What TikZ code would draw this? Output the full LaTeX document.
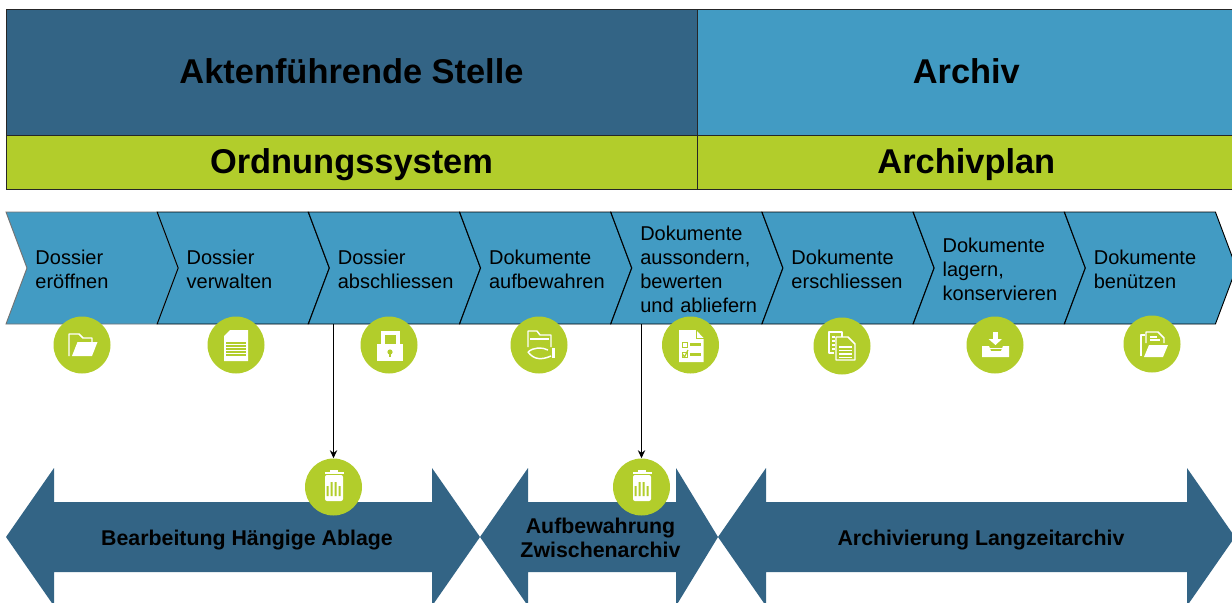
\documentclass[tikz,border=0pt]{standalone}
\usepackage{fontspec}
\setmainfont{Liberation Sans}
\usetikzlibrary{positioning,shapes.symbols,arrows.meta}

\definecolor{darkblue}{RGB}{51,100,133}
\definecolor{lightblue}{RGB}{66,155,195}
\definecolor{limegreen}{RGB}{178,205,43}

\tikzset{
  headbox/.style={draw=black!85,line width=.7pt,anchor=north west,outer sep=0pt,minimum height=94.5pt,text depth=1.5pt,font=\bfseries\fontsize{25.8}{30}\selectfont},
  bandbox/.style={draw=black!85,line width=.7pt,anchor=north west,outer sep=0pt,fill=limegreen,minimum height=40.5pt,text height=23.3pt,text depth=5.4pt,inner ysep=0pt,font=\bfseries\fontsize{25.8}{30}\selectfont},
  stage/.style={signal,signal to=east,signal from=west,signal pointer angle=138.9,draw=black,line width=.7pt,fill=lightblue,
    minimum width=129pt,minimum height=84pt,inner sep=0pt,outer sep=0pt,text width=90pt,align=left,font=\fontsize{15}{18}\selectfont,
    execute at begin node={\leftskip=2.6pt\rule{0pt}{12.5pt}}},
  phasefill/.style={fill=darkblue},
  phase/.style={inner sep=0pt,align=center,font=\bfseries\fontsize{16}{18}\selectfont},
  disc/.style={circle,fill=limegreen,minimum size=42.75pt,inner sep=0pt},
  ink/.style={fill=white,draw=none},
  pen/.style={draw=white,line width=1.1pt,line join=round},
  cut/.style={draw=limegreen,line width=.9pt},
  flow/.style={-{Stealth[length=6pt,width=5.5pt]},line width=.95pt},
  iconfolder/.pic={
    \draw[pen] (-13,11) -- (-13,-11) -- (-3,-11) -- (1,-7) -- (10,-7) -- (10,-3);
    \fill[ink] (-10,11) -- (-4.5,-3) -- (15.5,-3) -- (10,11) -- cycle;
  },
  icondoc/.pic={
    \fill[ink] (-6,-15) -- (12,-15) -- (12,16) -- (-12,16) -- (-12,-9) -- cycle;
    \draw[cut] (-10,-2) -- (10,-2) (-10,1) -- (10,1) (-10,4) -- (10,4) (-10,7) -- (10,7) (-10,10) -- (10,10);
  },
  iconlock/.pic={
    \draw[white,line width=2.6pt] (-6,0) -- (-6,-12) -- (9,-12) -- (9,0);
    \fill[ink] (-12,-1) rectangle (14,16);
    \fill[limegreen] (1,7) circle[radius=2.6];
    \fill[limegreen] (0,7) rectangle (2,12);
  },
  iconhand/.pic={
    \draw[pen] (-11,2) -- (-11,-14) -- (-2,-14) -- (1,-10) -- (12,-10) -- (12,2);
    \draw[pen] (-9,-6) -- (10,-6);
    \draw[pen] (-11,7) .. controls (-5,2) and (3,2) .. (9,5);
    \draw[pen] (-11,7) .. controls (-5,15) and (3,15) .. (12,11);
    \fill[ink] (13,3) rectangle (16,13);
  },
  iconcheck/.pic={
    \fill[ink] (-11.5,-15) -- (5.5,-15) -- (13,-7) -- (13,17) -- (-11.5,17) -- cycle;
    \draw[limegreen,line width=.6pt] (5.5,-15) -- (5.5,-7) -- (13,-7);
    \draw[limegreen,line width=.7pt] (-8.5,-3) rectangle (-3.5,2);
    \draw[limegreen,line width=.7pt] (-8.5,7) rectangle (-3.5,12);
    \draw[limegreen,line width=.9pt] (-8,9) -- (-6,12) -- (-2.5,5);
    \fill[limegreen] (-0.5,-2.5) rectangle (10,0.5);
    \fill[limegreen] (-0.5,7.5) rectangle (10,10.5);
  },
  iconcopy/.pic={
    \draw[pen] (-8,7) -- (-13,7) -- (-13,-14) -- (0,-14) -- (0,-9);
    \draw[white,line width=.8pt] (-10,-9) -- (-7,-9) (-10,-5) -- (-7,-5) (-10,-1) -- (-7,-1) (-10,3) -- (-7,3);
    \draw[pen] (-6,14) -- (-6,-9) -- (6,-9) -- (13,-2) -- (13,14) -- cycle;
    \draw[white,line width=.9pt] (-3,1) -- (10,1) (-3,4.5) -- (10,4.5) (-3,8) -- (10,8) (-3,11.5) -- (10,11.5);
  },
  icontray/.pic={
    \fill[ink] (-2.5,-13) rectangle (3,-6);
    \fill[ink] (-6.5,-6) -- (7,-6) -- (0.5,0) -- cycle;
    \fill[ink] (-13,1) -- (-6,1) -- (-4,6) -- (6,6) -- (8,1) -- (14,1) -- (14,12) -- (-13,12) -- cycle;
    \draw[white,line width=.6pt] (-5,3) -- (7,3);
  },
  iconfile/.pic={
    \draw[pen] (-11,12) -- (-11,-9) -- (-7,-9);
    \draw[pen] (-6,-1) -- (-6,-12) -- (6,-12) -- (12,-6) -- (12,-1);
    \draw[white,line width=.8pt] (-2,-7) -- (5,-7) (-2,-4) -- (8,-4);
    \fill[ink] (-8,13) -- (-3,1) -- (16,1) -- (11,13) -- cycle;
  },
  icontrash/.pic={
    \fill[ink] (-4,-17) rectangle (4,-15);
    \fill[ink] (-9,-15) rectangle (10,-13);
    \fill[ink,rounded corners=1.5pt] (-8.5,-12) rectangle (9.5,14);
    \fill[limegreen] (-6.8,-1) rectangle (-5,9) (-2.8,-5) rectangle (-1,9) (1.2,-5) rectangle (3,9) (5.2,-1) rectangle (7,9);
  },
}

\begin{document}
\begin{tikzpicture}[x=.75pt,y=-.75pt,on grid]
  \clip (0,0) rectangle (1232,603);

  % top blocks
  \node[headbox,fill=darkblue,minimum width=518.25pt] (stelle) at (6,9) {Aktenführende Stelle};
  \node[headbox,fill=lightblue,minimum width=404pt] (archiv) at (stelle.north east) {Archiv};
  \node[bandbox,minimum width=518.25pt] (ordnung) at (stelle.south west) {Ordnungssystem};
  \node[bandbox,minimum width=404pt] (plan) at (ordnung.north east) {Archivplan};

  % process chain
  \node[stage,draw=black!55] (s1) at (92,268) {Dossier\\eröffnen};
  \node[stage,right=113.4pt of s1] (s2) {Dossier\\verwalten};
  \node[stage,right=113.4pt of s2] (s3) {Dossier\\abschliessen};
  \node[stage,right=113.4pt of s3] (s4) {Dokumente\\aufbewahren};
  \node[stage,right=113.4pt of s4] (s5) {Dokumente\\aussondern,\\bewerten\\und~abliefern};
  \node[stage,right=113.4pt of s5] (s6) {Dokumente\\erschliessen};
  \node[stage,right=113.4pt of s6] (s7) {Dokumente\\lagern,\\konservieren};
  \node[stage,right=113.4pt of s7] (s8) {Dokumente\\benützen};

  % icons under the chain
  \node[disc] (d1) at (82,345) {};
  \pic at (d1) {iconfolder};
  \node[disc] (d2) at (236,345) {};
  \pic at (d2) {icondoc};
  \node[disc] (d3) at (389,345) {};
  \pic at (d3) {iconlock};
  \node[disc] (d4) at (539,345) {};
  \pic at (d4) {iconhand};
  \node[disc] (d5) at (690.5,345) {};
  \pic at (d5) {iconcheck};
  \node[disc] (d6) at (842,346) {};
  \pic at (d6) {iconcopy};
  \node[disc] (d7) at (995,345) {};
  \pic at (d7) {icontray};
  \node[disc] (d8) at (1152,344) {};
  \pic at (d8) {iconfile};

  % storage phases
  \fill[phasefill] (6,537) -- (54,468) -- (54,502) -- (432,502) -- (432,468) -- (480,537) -- (432,606) -- (432,572) -- (54,572) -- (54,606) -- cycle;
  \fill[phasefill] (480,537) -- (528,468) -- (528,502) -- (676,502) -- (676,468) -- (718,537) -- (676,606) -- (676,572) -- (528,572) -- (528,606) -- cycle;
  \fill[phasefill] (718,537) -- (766,468) -- (766,502) -- (1187,502) -- (1187,468) -- (1235,537) -- (1187,606) -- (1187,572) -- (766,572) -- (766,606) -- cycle;
  \node[phase] (p1) at (247,540) {Bearbeitung Hängige Ablage};
  \node[phase] (p2) at (600.5,538) {Aufbewahrung\\Zwischenarchiv};
  \node[phase] (p3) at (981,540) {Archivierung Langzeitarchiv};

  \node[disc] (t1) at (333.5,487) {};
  \pic at (t1) {icontrash};
  \node[disc] (t2) at (641.5,487) {};
  \pic at (t2) {icontrash};

  \draw[flow] (s3.south -| t1) -- (t1);
  \draw[flow] (s5.south -| t2) -- (t2);
\end{tikzpicture}
\end{document}
